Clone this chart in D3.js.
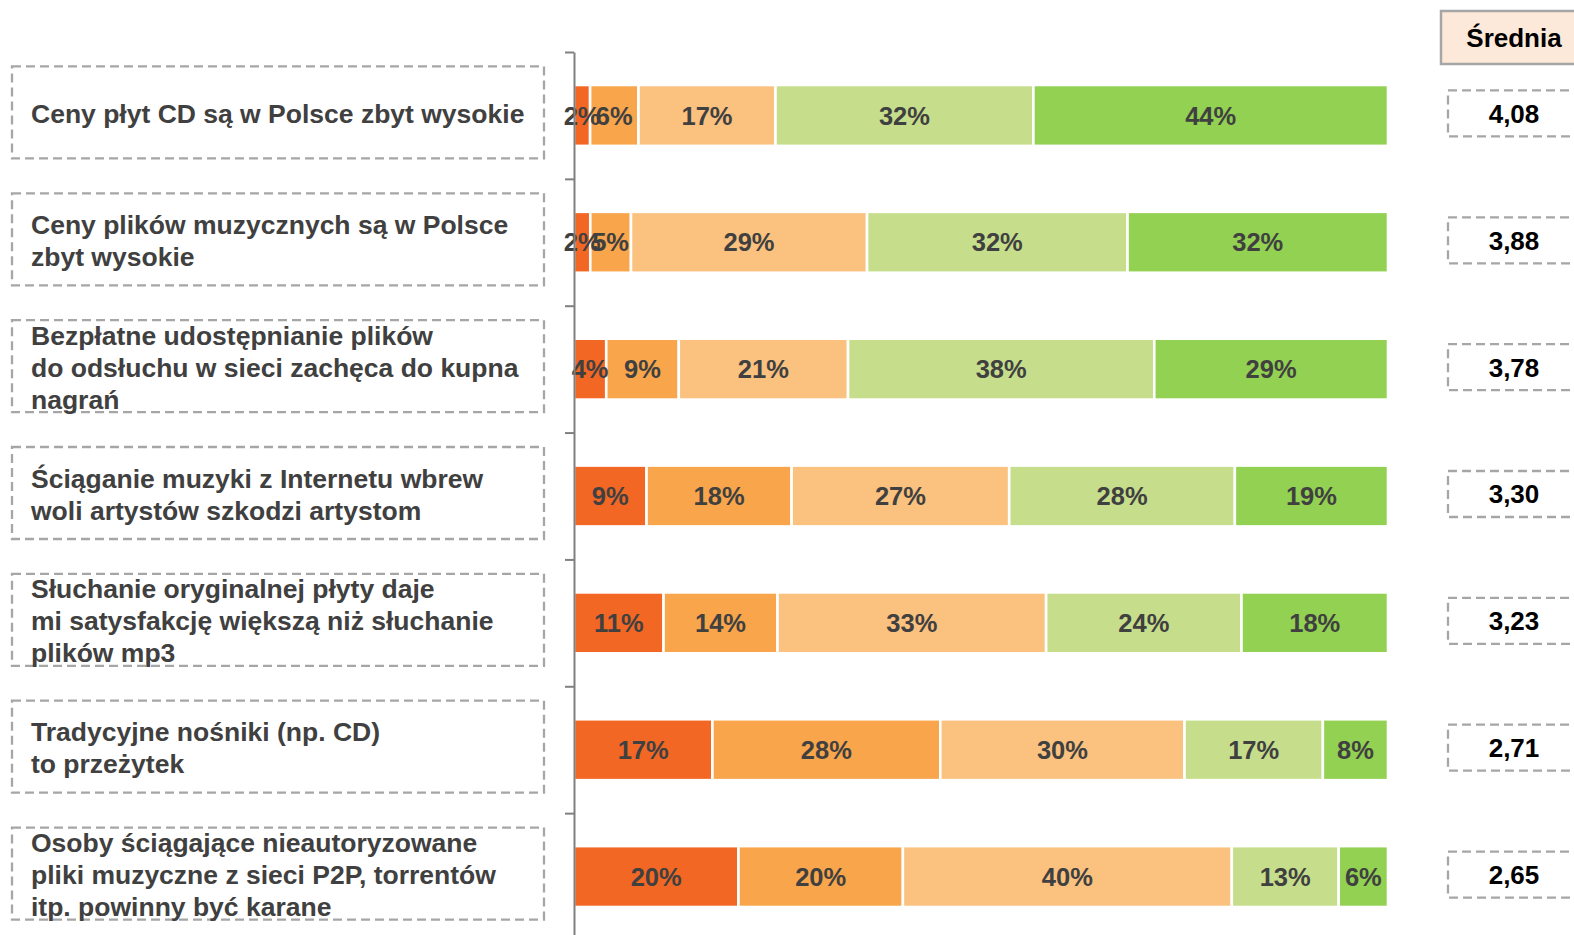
<!DOCTYPE html>
<html><head><meta charset="utf-8">
<script src="https://cdn.jsdelivr.net/npm/d3@7"></script>
<style>
html,body{margin:0;padding:0;background:#fff;}
svg{display:block;font-family:"Liberation Sans",Arial,sans-serif;}
</style></head>
<body>
<script>
// ---- data ----
const statements = [
  ["Ceny płyt CD są w Polsce zbyt wysokie"],
  ["Ceny plików muzycznych są w Polsce", "zbyt wysokie"],
  ["Bezpłatne udostępnianie plików", "do odsłuchu w sieci zachęca do kupna", "nagrań"],
  ["Ściąganie muzyki z Internetu wbrew", "woli artystów szkodzi artystom"],
  ["Słuchanie oryginalnej płyty daje", "mi satysfakcję większą niż słuchanie", "plików mp3"],
  ["Tradycyjne nośniki (np. CD)", "to przeżytek"],
  ["Osoby ściągające nieautoryzowane", "pliki muzyczne z sieci P2P, torrentów", "itp. powinny być karane"]
];
const seriesKeys = ["s1", "s2", "s3", "s4", "s5"];
const s1 = [2, 2, 4, 9, 11, 17, 20];
const s2 = [6, 5, 9, 18, 14, 28, 20];
const s3 = [17, 29, 21, 27, 33, 30, 40];
const s4 = [32, 32, 38, 28, 24, 17, 13];
const s5 = [44, 32, 29, 19, 18, 8, 6];
const means = [4.08, 3.88, 3.78, 3.30, 3.23, 2.71, 2.65];
const meanTitle = "Średnia";
const colors = ["#F26724", "#F9A54B", "#FAC17F", "#C6DE8B", "#92D151"];

const W = 1574, H = 935;
const svg = d3.select("body").append("svg").attr("width", W).attr("height", H);

const rows = statements.map((s, i) => ({i, s1: s1[i], s2: s2[i], s3: s3[i], s4: s4[i], s5: s5[i]}));
const stack = d3.stack().keys(seriesKeys).offset(d3.stackOffsetExpand);
const layers = stack(rows);

const axisX = 574;
const y = d3.scaleBand().domain(d3.range(statements.length)).range([52, 940])
  .paddingInner(0.52).paddingOuter(0.26);
const x = d3.scaleLinear().domain([0, 1]).range([axisX, 1388]);
const yTick = d3.scaleLinear().domain([0, statements.length]).range([52, 940]);
const bandC = i => y(i) + y.bandwidth() / 2;

// bars
const g = svg.append("g");
layers.forEach((layer, k) => {
  const lg = g.append("g");
  lg.selectAll("rect").data(layer).join("rect")
    .attr("x", d => x(d[0]))
    .attr("y", (d, i) => y(i))
    .attr("width", d => Math.max(0, x(d[1]) - x(d[0])))
    .attr("height", y.bandwidth())
    .attr("fill", colors[k])
    .attr("stroke", "#fff").attr("stroke-width", 2.6);
});
layers.forEach((layer, k) => {
  g.append("g").selectAll("text").data(layer).join("text")
    .attr("x", d => (x(d[0]) + x(d[1])) / 2)
    .attr("y", (d, i) => bandC(i))
    .attr("dy", "0.36em")
    .attr("text-anchor", "middle")
    .attr("font-size", 25.5).attr("font-weight", "bold")
    .attr("fill", "#404040")
    .text((d, i) => [s1, s2, s3, s4, s5][k][i] + "%");
});

// axis
const ax = svg.append("g").attr("transform", `translate(${axisX},0)`)
  .call(d3.axisLeft(yTick).tickValues(d3.range(statements.length + 1)).tickSize(9).tickSizeOuter(0).tickFormat(""));
ax.selectAll("path,line").attr("stroke", "#808080").attr("stroke-width", 2);

// left label boxes
const lab = svg.append("g");
statements.forEach((lines, i) => {
  const c = bandC(i) - 3;
  lab.append("rect")
    .attr("x", 12).attr("y", c - 46).attr("width", 532).attr("height", 92)
    .attr("fill", "none").attr("stroke", "#A6A6A6").attr("stroke-width", 2.3)
    .attr("stroke-dasharray", "9,5");
  const lh = 32;
  const t = lab.append("text").attr("font-size", 26.5).attr("font-weight", "bold").attr("fill", "#404040");
  lines.forEach((ln, j) => {
    t.append("tspan").attr("x", 31)
      .attr("y", c + 1 + (j - (lines.length - 1) / 2) * lh)
      .attr("dy", "0.36em").text(ln);
  });
});

// mean column
const mg = svg.append("g");
mg.append("rect").attr("x", 1441).attr("y", 11).attr("width", 150).attr("height", 53)
  .attr("fill", "#FDE9D9").attr("stroke", "#A6A6A6").attr("stroke-width", 2.5);
mg.append("text").attr("x", 1514).attr("y", 37.5).attr("dy", "0.36em")
  .attr("text-anchor", "middle").attr("font-size", 26).attr("font-weight", "bold").attr("fill", "#000")
  .text(meanTitle);
const fmt = v => d3.format(".2f")(v).replace(".", ",");
means.forEach((m, i) => {
  const c = bandC(i) - 2;
  mg.append("rect").attr("x", 1448).attr("y", c - 23).attr("width", 150).attr("height", 46)
    .attr("fill", "none").attr("stroke", "#A6A6A6").attr("stroke-width", 2.3)
    .attr("stroke-dasharray", "9,5");
  mg.append("text").attr("x", 1514).attr("y", c).attr("dy", "0.36em")
    .attr("text-anchor", "middle").attr("font-size", 26).attr("font-weight", "bold").attr("fill", "#000")
    .text(fmt(m));
});
</script>
</body></html>
